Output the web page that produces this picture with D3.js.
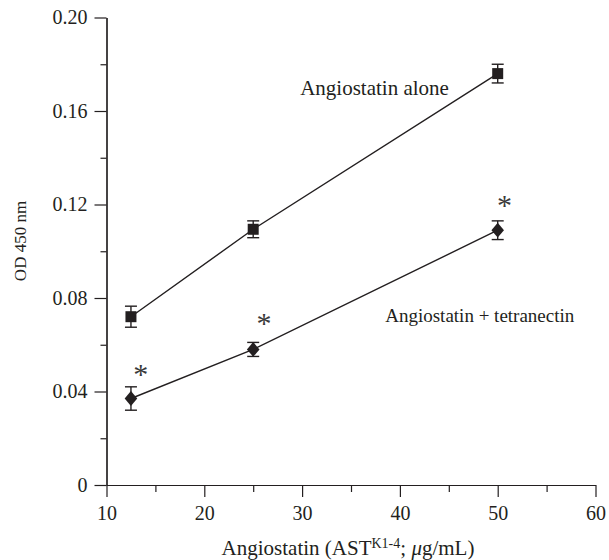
<!DOCTYPE html>
<html>
<head>
<meta charset="utf-8">
<script src="https://cdn.jsdelivr.net/npm/d3@7"></script>
<style>
  body { margin: 0; background: #fff; }
  svg { display: block; }
  svg text { font-family: "Liberation Serif", serif !important; fill: #231f20; }
  .axis path, .axis line { stroke: #231f20; stroke-width: 1.2; }
</style>
</head>
<body>
<svg id="chart" width="609" height="560" font-family="Liberation Serif"></svg>
<script>
// concentrations (ug/mL)
const conc = [12.5, 25, 50];

// OD 450 nm, angiostatin alone
const aloneMean = [0.072, 0.1094, 0.176];
const aloneErr = [0.0045, 0.0036, 0.004];

// OD 450 nm, angiostatin + tetranectin
const tetraMean = [0.037, 0.058, 0.109];
const tetraErr = [0.005, 0.003, 0.004];

// significance marks
const starX = [13.5, 26.1, 50.7];
const starY = [0.0494, 0.0712, 0.1215];

// ticks
const xTicks = [10, 20, 30, 40, 50, 60];
const xMinor = [15, 25, 35, 45, 55];
const yTicks = [0, 0.04, 0.08, 0.12, 0.16, 0.2];
const yMinor = [0.02, 0.06, 0.1, 0.14, 0.18];
const yTickLabels = ["0", "0.04", "0.08", "0.12", "0.16", "0.20"];

const svg = d3.select("#chart");

const x = d3.scaleLinear().domain([10, 60]).range([106.5, 595.5]);
const y = d3.scaleLinear().domain([0, 0.2]).range([485, 17.5]);

// a diamond a bit wider than d3's own
const wideDiamond = {
    draw(ctx, size) {
        const h = Math.sqrt(size) * 0.78, w = h * 0.85;
        ctx.moveTo(0, -h);
        ctx.lineTo(w, 0);
        ctx.lineTo(0, h);
        ctx.lineTo(-w, 0);
        ctx.closePath();
    }
};

/**
 * Draw the axes with major (labelled) and minor ticks
 */
function drawAxes() {
    // minor ticks first, no labels
    svg.append("g")
        .attr("class", "axis")
        .attr("transform", `translate(0,${y(0)})`)
        .call(d3.axisBottom(x).tickValues(xMinor).tickSize(7).tickSizeOuter(0).tickFormat(""));
    svg.append("g")
        .attr("class", "axis")
        .attr("transform", `translate(${x(10)},0)`)
        .call(d3.axisLeft(y).tickValues(yMinor).tickSize(6).tickSizeOuter(0).tickFormat(""));

    svg.append("g")
        .attr("class", "axis")
        .attr("transform", `translate(0,${y(0)})`)
        .call(d3.axisBottom(x).tickValues(xTicks).tickSize(12).tickSizeOuter(0).tickPadding(9));

    svg.append("g")
        .attr("class", "axis")
        .attr("transform", `translate(${x(10)},0)`)
        .call(d3.axisLeft(y).tickValues(yTicks).tickSize(12).tickSizeOuter(0).tickPadding(7)
            .tickFormat((d, i) => yTickLabels[i]));

    svg.selectAll(".axis")
        .attr("font-family", "Liberation Serif")
        .attr("font-size", 20);
    svg.selectAll(".axis text").attr("fill", "#231f20");

    // x title with superscript
    const xt = svg.append("text")
        .attr("x", 348)
        .attr("y", 555)
        .attr("text-anchor", "middle")
        .style("font-size", "21px");
    xt.append("tspan").text("Angiostatin (AST");
    xt.append("tspan").attr("dy", -7).style("font-size", "14px").text("K1-4");
    xt.append("tspan").attr("dy", 7).text("; ");
    xt.append("tspan").style("font-style", "italic").text("μ");
    xt.append("tspan").text("g/mL)");

    svg.append("text")
        .attr("transform", "translate(26,241) rotate(-90)")
        .attr("text-anchor", "middle")
        .style("font-size", "17px")
        .text("OD 450 nm");
}

/**
 * Draw one series: line, error bars and markers
 */
function drawSeries(means, errs, shape) {
    const pts = conc.map((c, i) => ({ c, m: means[i], e: errs[i] }));
    const g = svg.append("g");

    g.append("path")
        .datum(pts)
        .attr("fill", "none")
        .attr("stroke", "#231f20")
        .attr("stroke-width", 1.4)
        .attr("d", d3.line().x((d) => x(d.c)).y((d) => y(d.m)));

    const eb = g.selectAll(".eb").data(pts).enter().append("g");
    eb.append("line")
        .attr("x1", (d) => x(d.c)).attr("x2", (d) => x(d.c))
        .attr("y1", (d) => y(d.m - d.e)).attr("y2", (d) => y(d.m + d.e))
        .attr("stroke", "#231f20").attr("stroke-width", 1.4);
    [-1, 1].forEach((s) => {
        eb.append("line")
            .attr("x1", (d) => x(d.c) - 6).attr("x2", (d) => x(d.c) + 6)
            .attr("y1", (d) => y(d.m + s * d.e)).attr("y2", (d) => y(d.m + s * d.e))
            .attr("stroke", "#231f20").attr("stroke-width", 1.4);
    });

    const sym = shape === "square"
        ? d3.symbol().type(d3.symbolSquare).size(121)
        : d3.symbol().type(wideDiamond).size(90);
    g.selectAll(".mk").data(pts).enter().append("path")
        .attr("transform", (d) => `translate(${x(d.c)},${y(d.m)})`)
        .attr("d", sym)
        .attr("fill", "#231f20");
}

drawAxes();
drawSeries(aloneMean, aloneErr, "square");
drawSeries(tetraMean, tetraErr, "diamond");

// asterisks
svg.selectAll(".star").data(starX).enter().append("text")
    .attr("x", (d) => x(d))
    .attr("y", (d, i) => y(starY[i]) + 14)
    .attr("text-anchor", "middle")
    .style("font-size", "30px")
    .style("fill", "#3a3a3a")
    .text("*");

// series labels
svg.append("text")
    .attr("x", x(29.8)).attr("y", y(0.1668))
    .style("font-size", "21px")
    .text("Angiostatin alone");
svg.append("text")
    .attr("x", x(38.5)).attr("y", y(0.0697))
    .style("font-size", "19px")
    .text("Angiostatin + tetranectin");
</script>
</body>
</html>
